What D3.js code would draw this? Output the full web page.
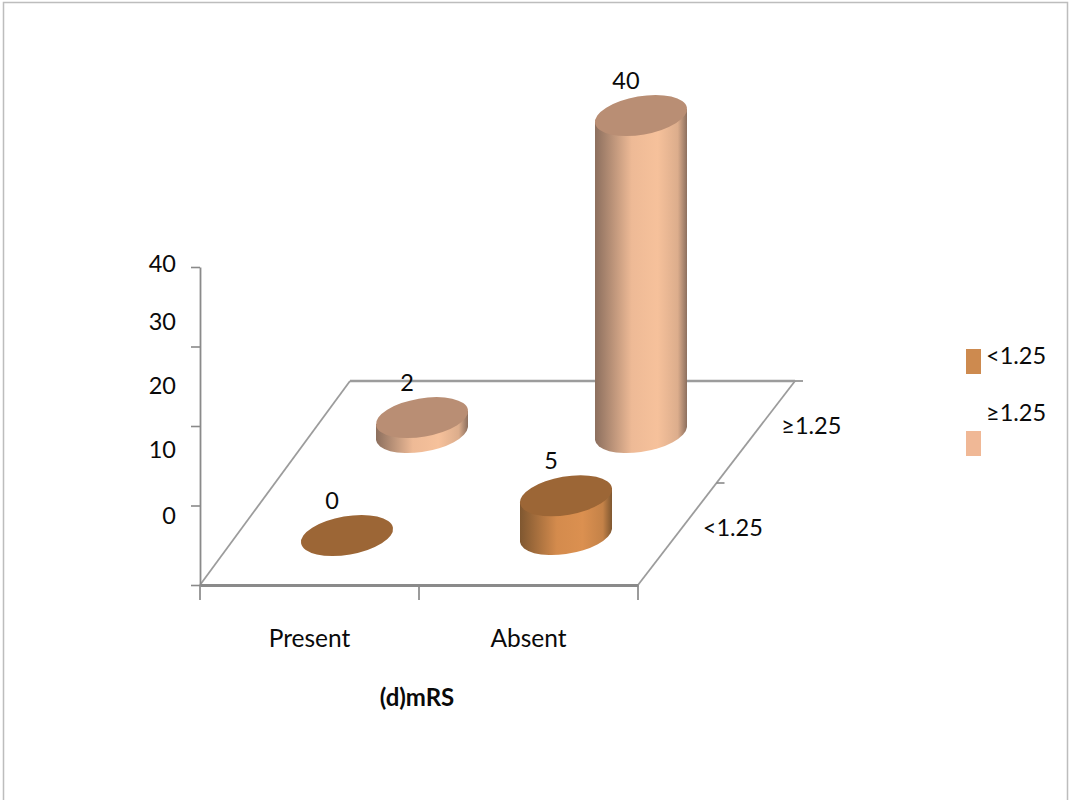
<!DOCTYPE html>
<html>
<head>
<meta charset="utf-8">
<script src="https://cdn.jsdelivr.net/npm/d3@7"></script>
<style>
  html, body { margin: 0; padding: 0; background: #fff; }
  svg { display: block; font-family: Lato, "Open Sans", sans-serif; }
  text { fill: #0a0a0a; }
</style>
</head>
<body>
<svg id="chart" width="1073" height="800"></svg>
<script>
// Chart content
const categories = ["Present", "Absent"];
const series = ["<1.25", "≥1.25"];
const lowValues = [0, 5];
const highValues = [2, 40];
const valueTicks = [0, 10, 20, 30, 40];
const axisTitle = "(d)mRS";

// Per-series colours: side highlight, side shadow, top face, legend swatch
const palette = {
  "<1.25": { light: "#db9050", dark: "#7f5730", top: "#9c6636", swatch: "#cd8a4f" },
  "≥1.25": { light: "#f6c19b", dark: "#8c6f5e", top: "#b98e74", swatch: "#f0b896" }
};

const svg = d3.select("#chart");
const axisGrey = "#8a8a8a";

// Outer frame of the chart area
svg.append("path")
  .attr("d", "M3.5,800V2.5H1067.5V800")
  .attr("fill", "none").attr("stroke", "#bdbdbd").attr("stroke-width", 1.5);

// Scales: floor width, floor depth (oblique) and column height
const x = d3.scaleBand().domain(categories).range([200, 638]);
const depth = d3.scaleBand().domain(series).range([0, 1]);
const depthX = d3.scaleLinear().domain([0, 1]).range([0, 150]);
const depthY = d3.scaleLinear().domain([0, 1]).range([586.5, 382.5]);
const y = d3.scaleLinear().domain([0, 40]).range([585, 267]);
const labelY = d3.scaleLinear().domain(valueTicks).range([516, 450, 386, 322, 264]);
const heightOf = v => y(0) - y(v);

// Floor plane
const floorPts = [[200, 585], [350, 381], [795, 381], [638, 585]];
svg.append("path")
  .attr("d", d3.line()([floorPts[0], floorPts[1]]))
  .attr("stroke", "#9c9c9c").attr("stroke-width", 1.8).attr("fill", "none");
svg.append("path")
  .attr("d", d3.line()([floorPts[1], floorPts[2]]))
  .attr("stroke", "#9c9c9c").attr("stroke-width", 2.4).attr("fill", "none");
svg.append("path")
  .attr("d", d3.line()([floorPts[2], floorPts[3]]))
  .attr("stroke", "#9c9c9c").attr("stroke-width", 1.8).attr("fill", "none");

// Value axis: tick marks on the wall edge, labels on their own spacing
const yAxis = svg.append("g").attr("transform", "translate(200,0)")
  .call(d3.axisLeft(y).tickValues(valueTicks).tickSize(9).tickSizeOuter(0).tickFormat(""));
yAxis.selectAll("line").attr("stroke", axisGrey).attr("stroke-width", 1.6);
yAxis.select(".domain").attr("stroke", axisGrey).attr("stroke-width", 1.8);

const yLabels = svg.append("g").attr("transform", "translate(176,0)")
  .call(d3.axisLeft(labelY).tickValues(valueTicks).tickSize(0).tickPadding(0));
yLabels.select(".domain").remove();
yLabels.selectAll("text").style("font-family", "Lato, sans-serif").style("font-size", "23.5px").style("fill", "#0a0a0a");

// Category axis along the front floor edge
const xAxis = svg.append("g").attr("transform", "translate(0,585)")
  .call(d3.axisBottom(x).tickSize(0).tickPadding(45));
xAxis.select(".domain").attr("stroke", axisGrey).attr("stroke-width", 2.8);
xAxis.selectAll("text").style("font-family", "Lato, sans-serif").style("font-size", "24.5px").style("fill", "#0a0a0a");
xAxis.selectAll("g.tick").attr("transform", d => `translate(${x(d) + x.bandwidth() / 2},0)`);
svg.append("g").selectAll("line")
  .data(x.range().concat([(x.range()[0] + x.range()[1]) / 2]))
  .join("line")
  .attr("x1", d => d).attr("x2", d => d)
  .attr("y1", 585).attr("y2", 600)
  .attr("stroke", axisGrey).attr("stroke-width", 1.7);

// Depth axis along the right floor edge
const edge = t => [638 + t * 157, 585 - t * 204];
svg.append("g").selectAll("line")
  .data([0.5, 1])
  .join("line")
  .attr("x1", t => edge(t)[0]).attr("y1", t => edge(t)[1])
  .attr("x2", t => edge(t)[0] + 8).attr("y2", t => edge(t)[1])
  .attr("stroke", axisGrey).attr("stroke-width", 1.6);
svg.append("g").selectAll("text")
  .data(series)
  .join("text")
  .attr("x", d => edge(depth(d) + depth.bandwidth() / 2)[0] + 25.5)
  .attr("y", d => edge(depth(d) + depth.bandwidth() / 2)[1] - 6)
  .attr("dy", "0.35em")
  .attr("font-size", 23.5)
  .text(d => d);

svg.append("text")
  .attr("x", (x.range()[0] + x.range()[1]) / 2 - 2)
  .attr("y", 706)
  .attr("text-anchor", "middle")
  .attr("font-size", 24)
  .attr("font-weight", 700)
  .text(axisTitle);

// Cylinder geometry: a tilted ellipse and its outer tangent points
const RX = 46.6, RY = 19.2, TILT = -9.7, TAN_X = 46, TAN_Y = 6.5;
const defs = svg.append("defs");
series.forEach((s, i) => {
  const g = defs.append("linearGradient").attr("id", "side" + i);
  g.append("stop").attr("offset", "0%").attr("stop-color", palette[s].dark);
  g.append("stop").attr("offset", "40%").attr("stop-color", d3.interpolateRgb(palette[s].dark, palette[s].light)(0.92));
  g.append("stop").attr("offset", "68%").attr("stop-color", palette[s].light);
  g.append("stop").attr("offset", "90%").attr("stop-color", d3.interpolateRgb(palette[s].light, palette[s].dark)(0.25));
  g.append("stop").attr("offset", "100%").attr("stop-color", palette[s].dark);
});

const rows = [
  { name: series[1], index: 1, values: highValues },
  { name: series[0], index: 0, values: lowValues }
];
rows.forEach(row => {
  const v = depth(row.name) + depth.bandwidth() / 2;
  row.values.forEach((value, i) => {
    const cx = x(categories[i]) + x.bandwidth() / 2 + depthX(v);
    const base = depthY(v);
    const top = base - heightOf(value);
    const g = svg.append("g");
    if (value > 0) {
      g.append("path")
        .attr("d", `M${cx - TAN_X},${top + TAN_Y}` +
          `L${cx - TAN_X},${base + TAN_Y}` +
          `A${RX},${RY} ${TILT} 0 0 ${cx + TAN_X},${base - TAN_Y}` +
          `L${cx + TAN_X},${top - TAN_Y}Z`)
        .attr("fill", `url(#side${row.index})`);
    }
    g.append("ellipse")
      .attr("rx", RX).attr("ry", RY)
      .attr("transform", `translate(${cx},${top}) rotate(${TILT})`)
      .attr("fill", palette[row.name].top);
    g.append("text")
      .attr("x", cx - 15)
      .attr("y", top - 26.5)
      .attr("text-anchor", "middle")
      .attr("font-size", 23.5)
      .text(value);
  });
});

// Legend
const legend = svg.append("g");
const legendRects = d3.scalePoint().domain(series).range([349, 431]);
const legendText = d3.scalePoint().domain(series).range([364, 421]);
legend.selectAll("rect")
  .data(series)
  .join("rect")
  .attr("x", 966).attr("y", d => legendRects(d))
  .attr("width", 15).attr("height", 25)
  .attr("fill", d => palette[d].swatch);
legend.selectAll("text")
  .data(series)
  .join("text")
  .attr("x", 986).attr("y", d => legendText(d))
  .attr("font-size", 23.5)
  .text(d => d);
</script>
</body>
</html>
